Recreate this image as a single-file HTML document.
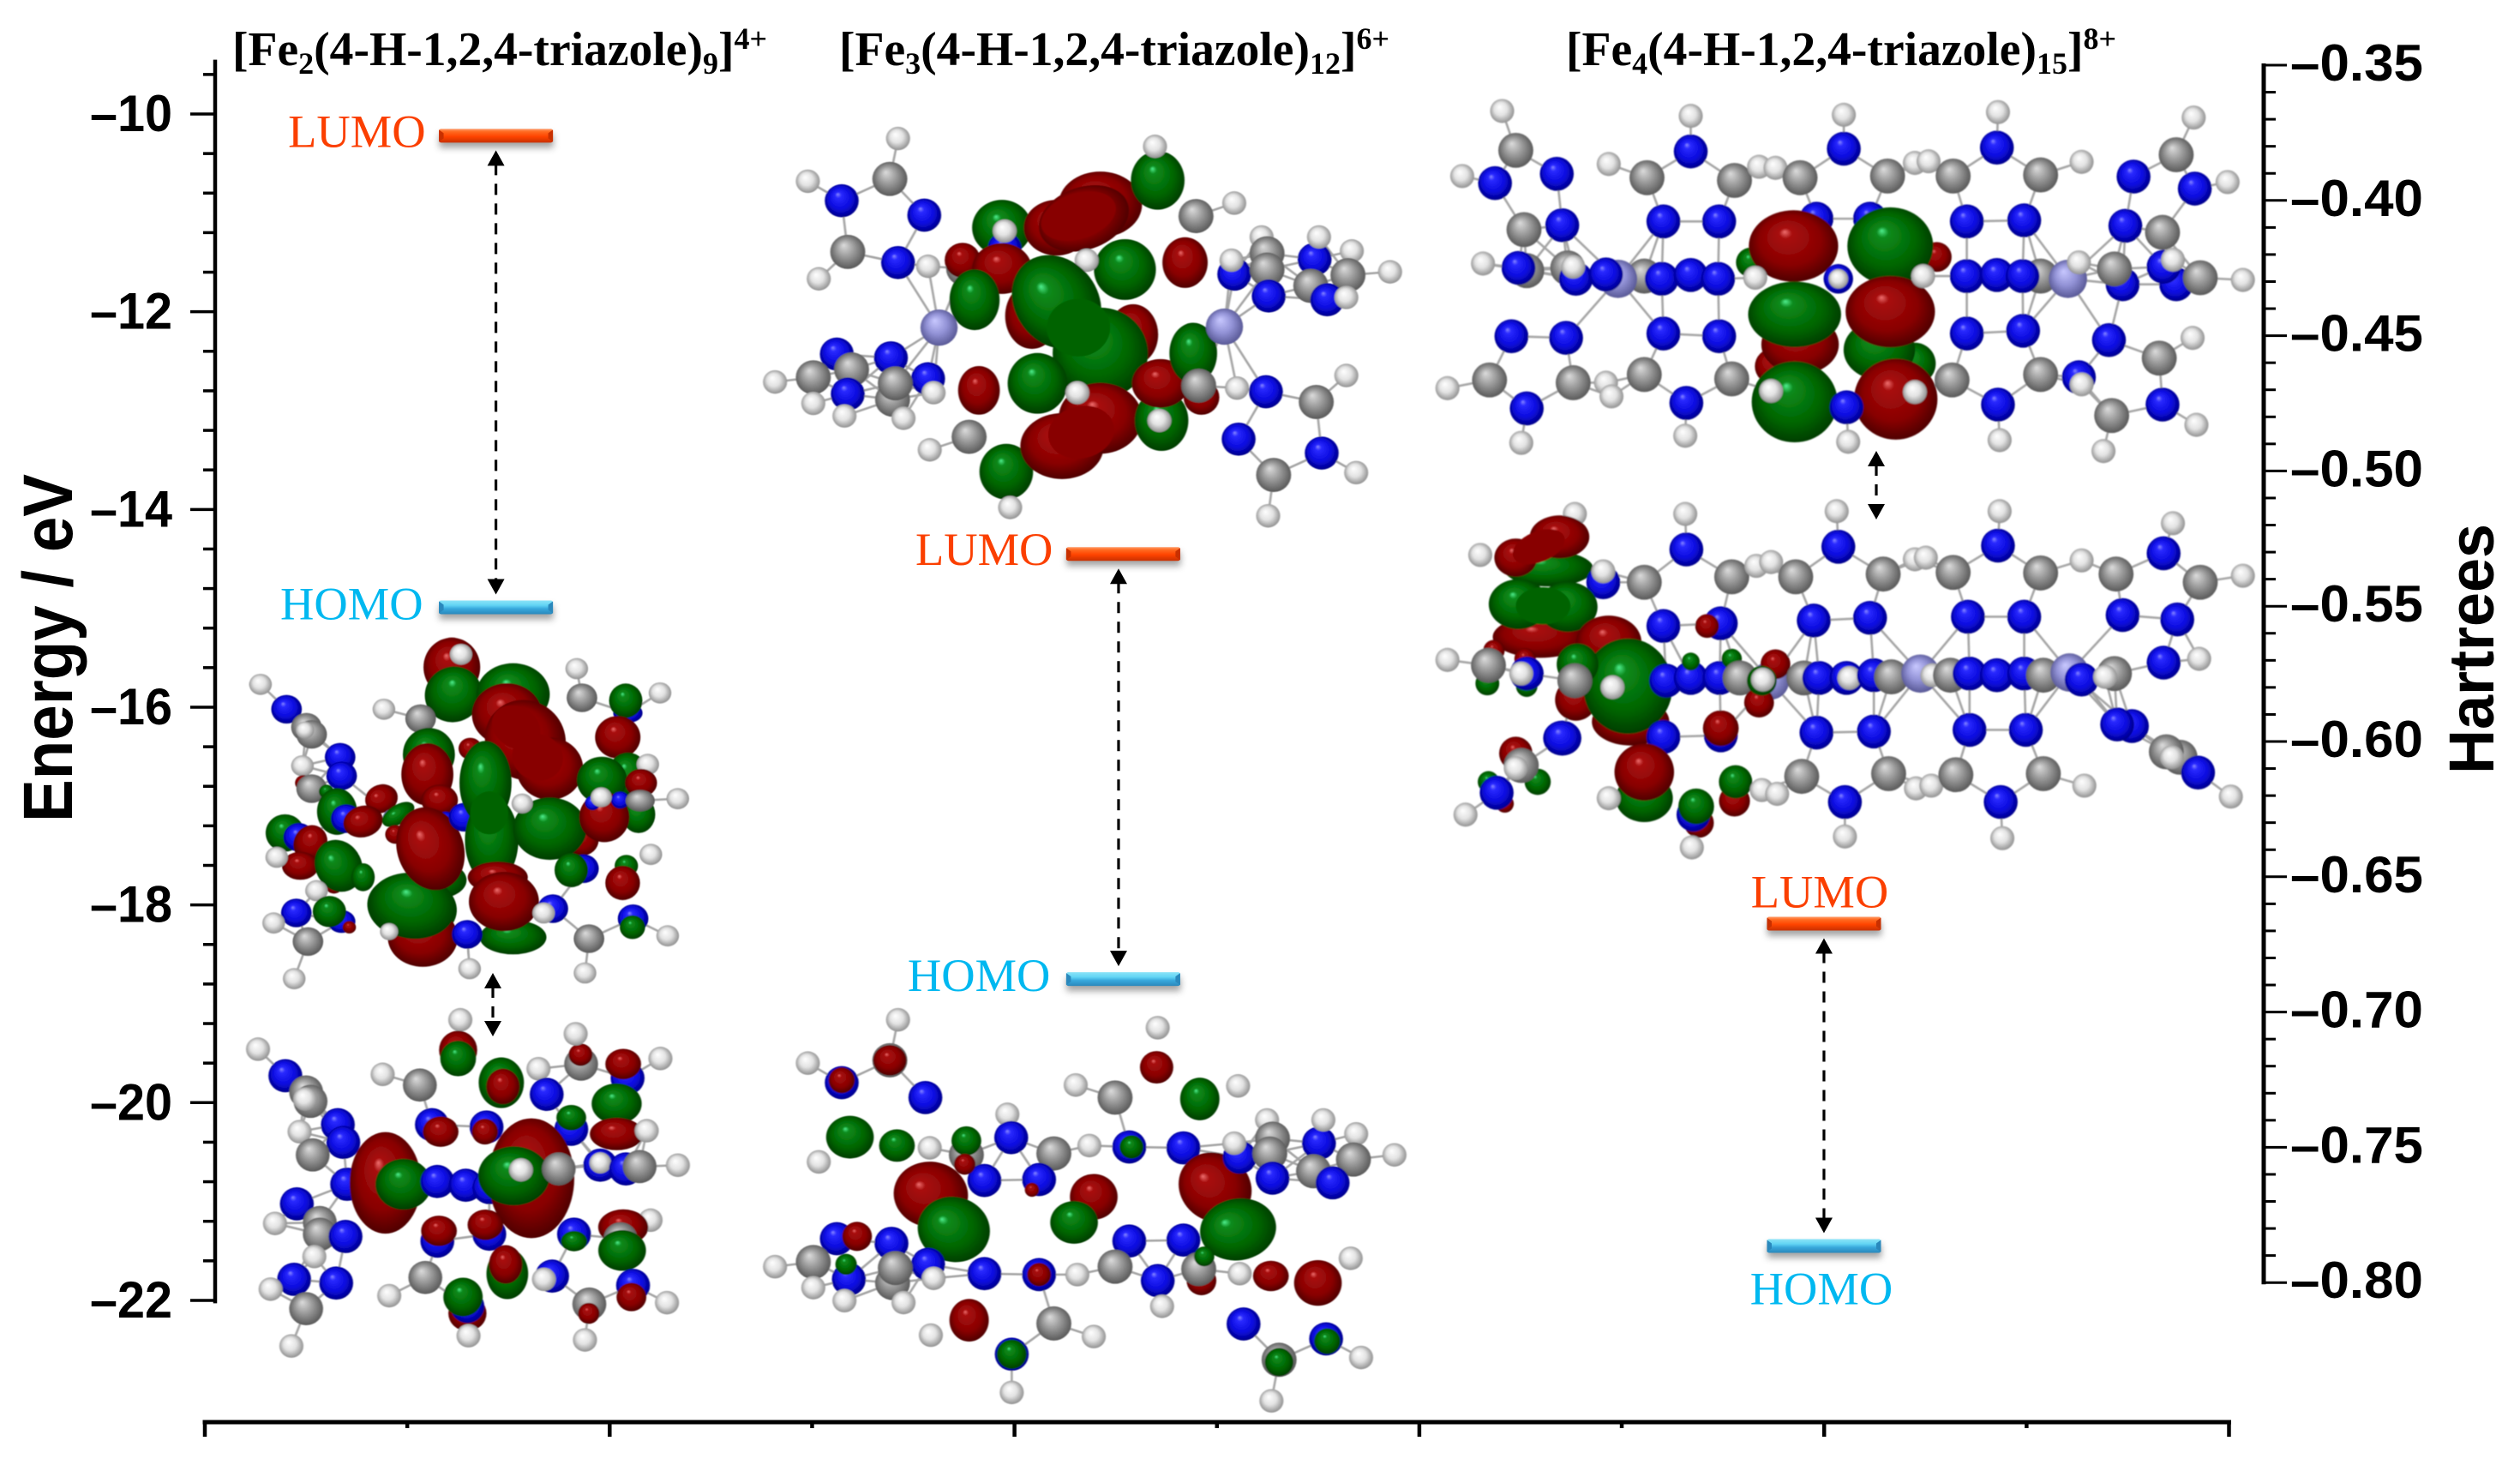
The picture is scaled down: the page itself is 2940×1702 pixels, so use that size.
<!DOCTYPE html>
<html lang="en">
<head>
<meta charset="utf-8">
<title>HOMO-LUMO energy levels of iron triazole complexes</title>
<style>
html,body{margin:0;padding:0;background:#fff;}
svg{display:block;}
.tick{font-family:"Liberation Sans",sans-serif;font-weight:700;font-size:60px;fill:#000;}
.axt{font-family:"Liberation Sans",sans-serif;font-weight:700;fill:#000;}
.ttl{font-family:"Liberation Serif",serif;font-weight:700;font-size:55.6px;fill:#000;}
.lvl{font-family:"Liberation Serif",serif;font-size:54.5px;}
</style>
</head>
<body>
<svg id="chart" xmlns="http://www.w3.org/2000/svg" width="2940" height="1702" viewBox="0 0 2940 1702">
<defs>
<radialGradient id="gH" cx=".5" cy=".5" r=".55" fx=".38" fy=".32"><stop offset="0" stop-color="#fff"/><stop offset=".5" stop-color="#e2e2e2"/><stop offset="1" stop-color="#848484"/></radialGradient>
<radialGradient id="gC" cx=".5" cy=".5" r=".55" fx=".38" fy=".3"><stop offset="0" stop-color="#dcdcdc"/><stop offset=".45" stop-color="#9c9c9c"/><stop offset="1" stop-color="#505050"/></radialGradient>
<radialGradient id="gN" cx=".5" cy=".5" r=".55" fx=".38" fy=".3"><stop offset="0" stop-color="#8a8aff"/><stop offset=".16" stop-color="#2a2aff"/><stop offset=".6" stop-color="#0a0ade"/><stop offset="1" stop-color="#000078"/></radialGradient>
<radialGradient id="gF" cx=".5" cy=".5" r=".55" fx=".38" fy=".3"><stop offset="0" stop-color="#c8c8ff"/><stop offset=".5" stop-color="#9292d6"/><stop offset="1" stop-color="#50508c"/></radialGradient>
<radialGradient id="gR" cx=".5" cy=".5" r=".58" fx=".4" fy=".3"><stop offset="0" stop-color="#f07070"/><stop offset=".12" stop-color="#a81010"/><stop offset=".6" stop-color="#880000"/><stop offset="1" stop-color="#3c0000"/></radialGradient>
<radialGradient id="gG" cx=".5" cy=".5" r=".58" fx=".4" fy=".3"><stop offset="0" stop-color="#50f090"/><stop offset=".12" stop-color="#0c8a1c"/><stop offset=".6" stop-color="#006400"/><stop offset="1" stop-color="#003000"/></radialGradient>
<linearGradient id="barL" x1="0" y1="0" x2="0" y2="1"><stop offset="0" stop-color="#ff9a68"/><stop offset=".2" stop-color="#ff6a20"/><stop offset=".55" stop-color="#ff4400"/><stop offset="1" stop-color="#c83000"/></linearGradient>
<linearGradient id="barH" x1="0" y1="0" x2="0" y2="1"><stop offset="0" stop-color="#8ce4f8"/><stop offset=".35" stop-color="#62d4f4"/><stop offset=".6" stop-color="#38a8dc"/><stop offset="1" stop-color="#2a88bc"/></linearGradient>
<filter id="soft" x="-5%" y="-5%" width="110%" height="110%"><feGaussianBlur stdDeviation="1.2"/></filter>
<filter id="shadow" x="-10%" y="-60%" width="120%" height="220%"><feGaussianBlur stdDeviation="4"/></filter>
</defs>
<g id="molecules"></g>
<g id="levels"></g>
<g id="axes"></g>
<text class="ttl" x="271" y="76">[Fe<tspan font-size="36" dy="10">2</tspan><tspan dy="-10">(4-H-1,2,4-triazole)</tspan><tspan font-size="36" dy="10">9</tspan><tspan dy="-10">]</tspan><tspan font-size="36" dy="-19">4+</tspan></text>
<text class="ttl" x="979" y="76">[Fe<tspan font-size="36" dy="10">3</tspan><tspan dy="-10">(4-H-1,2,4-triazole)</tspan><tspan font-size="36" dy="10">12</tspan><tspan dy="-10">]</tspan><tspan font-size="36" dy="-19">6+</tspan></text>
<text class="ttl" x="1827" y="76">[Fe<tspan font-size="36" dy="10">4</tspan><tspan dy="-10">(4-H-1,2,4-triazole)</tspan><tspan font-size="36" dy="10">15</tspan><tspan dy="-10">]</tspan><tspan font-size="36" dy="-19">8+</tspan></text>
<text class="axt" font-size="82" text-anchor="middle" textLength="406" lengthAdjust="spacingAndGlyphs" transform="translate(84,756) rotate(-90)">Energy / eV</text>
<text class="axt" font-size="74" text-anchor="middle" textLength="292" lengthAdjust="spacingAndGlyphs" transform="translate(2909,757) rotate(-90)">Hartrees</text>
</svg>
<script>
const NS = 'http://www.w3.org/2000/svg';

/* ---------- chart data ---------- */
const systems = ['Fe2', 'Fe3', 'Fe4'];
const lumoEnergies = [-10.22, -14.45, -18.19];
const homoEnergies = [-14.99, -18.75, -21.45];
const levelCenters = [1.438, 4.537, 7.999];
const arrowCenters = [1.438, 4.514, 7.999];
const energyTicks = [-10, -12, -14, -16, -18, -20, -22];
const energyTickLabels = ['–10', '–12', '–14', '–16', '–18', '–20', '–22'];
const hartreeTicks = [-0.35, -0.40, -0.45, -0.50, -0.55, -0.60, -0.65, -0.70, -0.75, -0.80];
const hartreeTickLabels = ['–0.35', '–0.40', '–0.45', '–0.50', '–0.55', '–0.60', '–0.65', '–0.70', '–0.75', '–0.80'];
const categoryTicks = [0, 1, 2, 3, 4, 5, 6, 7, 8, 9, 10];

/* ---------- axis functions ---------- */
function yEnergy(e) { return 133 + (-10 - e) * 115.33; }
function yHartree(h) { return 76 + (-0.35 - h) / 0.05 * 157.8; }
function xCat(c) { return 239 + c * 236.15; }

function mk(parent, tag, attrs) {
  const el = document.createElementNS(NS, tag);
  for (const k in attrs) el.setAttribute(k, attrs[k]);
  parent.appendChild(el);
  return el;
}

/* ---------- axes ---------- */
const axes = document.getElementById('axes');
const leftLine = mk(axes, 'line', {x1: 251, x2: 251, y1: yEnergy(-9.45), y2: yEnergy(-22.03), stroke: '#000', 'stroke-width': 4.5});


for (let i = 0; i <= 31; i++) {
  const e = -9.6 - i * 0.4;
  const isMajor = i % 5 === 1;
  const t = mk(axes, 'line', {x1: isMajor ? 222 : 237, x2: 251, y1: yEnergy(e), y2: yEnergy(e), stroke: '#000', 'stroke-width': 3.5});
  
  
}
energyTicks.forEach((e, i) => {
  const t = mk(axes, 'text', {class: 'tick', x: 201, y: yEnergy(e) + 20, 'text-anchor': 'end', textLength: 96, lengthAdjust: 'spacingAndGlyphs'});
  t.textContent = energyTickLabels[i];
  
  
});
const rightLine = mk(axes, 'line', {x1: 2641, x2: 2641, y1: yHartree(-0.35) - 2, y2: yHartree(-0.80) + 2, stroke: '#000', 'stroke-width': 5});


for (let i = 0; i <= 45; i++) {
  const h = -0.35 - i * 0.01;
  const isMajor = i % 5 === 0;
  const t = mk(axes, 'line', {x1: 2641, x2: isMajor ? 2668 : 2655, y1: yHartree(h), y2: yHartree(h), stroke: '#000', 'stroke-width': 3});
  
  
}
hartreeTicks.forEach((h, i) => {
  const t = mk(axes, 'text', {class: 'tick', x: 2672, y: yHartree(h) + 18, textLength: 155, lengthAdjust: 'spacingAndGlyphs'});
  t.textContent = hartreeTickLabels[i];
  
  
});
const bottomLine = mk(axes, 'line', {x1: xCat(0) - 2.5, x2: xCat(10) + 2.5, y1: 1659, y2: 1659, stroke: '#000', 'stroke-width': 5});


categoryTicks.forEach(c => {
  const isMajor = c % 2 === 0;
  const t = mk(axes, 'line', {x1: xCat(c), x2: xCat(c), y1: 1659, y2: isMajor ? 1676 : 1666, stroke: '#000', 'stroke-width': 4.5});
  
  
});

/* ---------- levels ---------- */
const levels = document.getElementById('levels');
function drawBar(cx, y, grad, edge, name) {
  const g = mk(levels, 'g', {});
  
  
  mk(g, 'rect', {x: cx - 66, y: y - 2, width: 133, height: 16, fill: '#666', opacity: .6, filter: 'url(#shadow)'});
  mk(g, 'rect', {x: cx - 66.5, y: y - 8, width: 133, height: 16, rx: 2.5, fill: 'url(#' + grad + ')'});
  mk(g, 'polygon', {points: [cx - 66.5, y - 7, cx - 61, y - 3, cx - 61, y + 3, cx - 66.5, y + 7].join(','), fill: edge});
  mk(g, 'polygon', {points: [cx + 66.5, y - 7, cx + 61, y - 3, cx + 61, y + 3, cx + 66.5, y + 7].join(','), fill: edge});
}
function arrowHead(x, tipY, dir) {
  const el = mk(levels, 'polygon', {points: [x, tipY, x - 10, tipY + dir * 18, x + 10, tipY + dir * 18].join(','), fill: '#000'});
  
  
}
function gapArrow(x, y1, y2) {
  const l = mk(levels, 'line', {x1: x, x2: x, y1: y1 + 16, y2: y2 - 16, stroke: '#000', 'stroke-width': 3.2, 'stroke-dasharray': '13 10'});
  
  
  arrowHead(x, y1, 1);
  arrowHead(x, y2, -1);
}
function levelLabel(txt, x, y, anchor, color, name) {
  const t = mk(levels, 'text', {class: 'lvl', x: x, y: y, 'text-anchor': anchor, fill: color});
  t.textContent = txt;
  
  
}
const LUMO_COLOR = '#fb3f00', HOMO_COLOR = '#00b8f0';
systems.forEach((s, i) => {
  const cx = xCat(levelCenters[i]);
  const yL = yEnergy(lumoEnergies[i]);
  const yH = yEnergy(homoEnergies[i]);
  drawBar(cx, yL, 'barL', '#c83000', 'lumo-level-' + s);
  drawBar(cx, yH, 'barH', '#2a88bc', 'homo-level-' + s);
  gapArrow(xCat(arrowCenters[i]), yL + 17, yH - 15);
  if (i < 2) {
    levelLabel('LUMO', cx - 82, yL + 13, 'end', LUMO_COLOR, 'lumo-label-' + s);
    levelLabel('HOMO', cx - 85, yH + 14, 'end', HOMO_COLOR, 'homo-label-' + s);
  } else {
    levelLabel('LUMO', cx - 5, yL - 19, 'middle', LUMO_COLOR, 'lumo-label-' + s);
    levelLabel('HOMO', cx - 3, yH + 68, 'middle', HOMO_COLOR, 'homo-label-' + s);
  }
});
/* short arrows between the two orbital pictures */
gapArrow(575, 1135, 1209);
gapArrow(2189, 526, 606);

/* ---------- molecule illustrations ---------- */
const molecules = [
 {name:'fe2-lumo-orbital', sx:1/2.8, sy:1/3, tx:270, ty:740, H:37, C:50, N:50, F:38, f:1.0, bond:175,
  atoms:'H 95 175;N 180 262;C 245 325;C 262 350;H 240 335 30;N 355 430;N 360 495;H 232 460;R 235 520 25;C 262 540;G 310 550 22;G 345 620 60 75;N 375 645;R 490 575 50 45 -30;R 430 655 60 50 -20;G 175 695 58 60;N 220 710;R 258 730 50 58 20;R 225 810 55 45;H 148 780;R 335 880 25;G 350 810 70 85 -20;G 430 850 35 45;H 278 897;N 212 975;H 138 1010;N 360 1005 45 40;R 385 1025 20;G 320 970 50 50;C 250 1075;H 205 1205;F 530 640 35 30;G 545 630 55 30 -35;R 720 115 85 95;H 750 70;G 725 210 85 90 20;C 618 295;H 498 262;G 645 420 78 85;R 640 490 78 100;R 680 580 55 50;N 700 650 30;R 535 700 30;R 780 400 35;G 670 860 90 60;G 590 955 135 105 10;R 625 1060 105 95;G 590 950 130 105 10;R 650 750 100 135 -15;H 515 1040 30;N 760 640;G 920 210 110 100;R 900 280 105 100;R 960 370 120 130 -20;R 1040 470 100 100;r 930 325 85 70 40;r 1000 430 85 80 40;G 830 520 78 135;G 850 720 80 140;g 842 625 62 75;R 870 850 90 50;G 920 1060 100 55;R 890 935 105 95;N 770 1050;H 778 1170;C 1145 222;H 1128 120;N 1295 275 48 35;G 1288 232 50 55;H 1400 205;R 1262 360 68 68;G 1295 490 60 70;G 1210 510 75 75;H 1360 455;R 1338 520 48 45;R 1145 720 50 50;G 1040 680 110 100;G 1330 630 50 60;R 1218 640 75 80;N 1270 580 30;N 1180 590 25;H 950 592 35;H 1208 570 35;C 1335 582 48 38;H 1458 575;N 1150 820;G 1110 825 50 55;G 1290 810 35;R 1278 870 52 55;H 1370 770;N 1050 960;H 1020 975;C 1168 1065;H 1155 1185;N 1312 995;G 1310 1025 38 38;H 1425 1055'},
 {name:'fe2-homo-orbital', sx:.6378, sy:.5435, tx:0, ty:850, H:22, C:31, N:31, F:32, f:1.15, bond:108,
  atoms:'H 472 688;N 522 745;C 560 780;C 568 800;H 558 795;N 618 850;N 628 888;H 548 865;C 572 915;N 635 978;N 543 1020;H 503 1062;C 585 1060;C 585 1085;H 575 1133;N 632 1090;N 538 1182;H 495 1203;N 615 1190;C 560 1245;H 533 1325;H 842 625;R 838 690 32 38;G 838 708 30 35;C 768 765;H 700 742;G 917 760 38 50;R 920 768 28 35;N 790 850;R 806 865 30 30;N 890 855;R 887 865 22;H 985 730;N 1000 785;C 1063 720;R 1062 700 20 22;H 1053 655;N 1148 750;R 1140 720 30 30;H 1208 708;G 1128 805 42 40;N 1045 860;G 1045 835 25 25;R 1128 870 45 32;H 1183 863;R 705 975 60 100;G 738 978 47 50;N 800 972;N 852 980;N 895 985;R 972 965 72 118;G 940 960 60 58;H 953 947;C 1022 945;N 1098 937;H 1098 932 20;N 1145 945;C 1170 940;H 1240 937;N 800 1100;R 803 1078 30 30;N 895 1085;R 888 1065 30 30;H 1190 1055;R 1140 1070 42 35;C 1135 1095;G 1138 1120 40 40;N 1050 1085;G 1050 1100 22 20;C 778 1178;H 712 1217;G 928 1170 35 50;R 925 1150 28 38;N 1010 1175;H 995 1182;R 855 1255 32 35;N 855 1240;G 847 1220 33 38;H 857 1303;C 1078 1235;R 1077 1255 18;H 1070 1312;N 1158 1195;R 1155 1220 25 28;H 1220 1232'},
 {name:'fe3-lumo-orbital', sx:.6378, sy:.5421, tx:850, ty:0, H:22, C:32, N:31, F:34, f:1.15, bond:115,
  atoms:'H 310 298;C 295 385;H 145 390;N 207 432;N 358 463;C 218 542;N 310 565;H 165 600;H 365 573;C 430 578;R 428 560 30;F 385 705;G 500 490 50 55;N 505 535;R 500 578 50 50;H 505 497 22;G 450 645 42 60;R 600 490 55 55;R 680 440 70 65;R 650 470 80 60 -30;r 640 465 72 48 -25;G 785 388 45 58;H 780 315;C 855 465;H 925 437;R 835 565 38 50;G 725 580 52 60;H 655 560;R 555 680 45 65;R 740 720 42 60;G 600 650 72 95 -20;G 680 760 80 90;g 640 705 58 62;G 565 825 50 60;R 458 840 35 48;C 440 940;H 368 968;G 508 1015 45 55;H 515 1092;R 610 960 70 65;R 680 900 70 70;r 645 930 62 55 -30;H 638 845 22;G 792 905 45 60;R 790 825 48 48;H 788 905;G 850 760 40 60;F 907 703;R 865 855 30;C 860 830;H 930 835;H 975 510;C 985 545;N 925 590;H 920 560;N 1072 558;H 1080 510;H 1140 540;C 1065 615;C 1133 592;H 1210 585;C 985 580;N 988 637;N 1095 645;H 1130 640;N 983 843;C 1075 865;H 1130 808;N 933 945;N 1085 975;C 997 1022;H 1148 1017;H 987 1110;N 198 762;C 225 795;N 297 770;N 365 815;C 155 812;H 85 822;H 155 868;N 218 848;H 212 895;C 300 860;C 305 825;H 320 900;H 375 845'},
 {name:'fe3-homo-orbital', sx:.6378, sy:.5434, tx:850, ty:850, H:22, C:32, N:31, F:32, f:1.15, bond:115,
  atoms:'H 310 625;C 295 712;R 295 712 28 30;H 145 718;N 207 760;R 207 755 22;N 360 792;G 222 877 40 42;G 308 895 30 32;H 165 930;H 368 900;C 435 915;G 435 885 25;H 510 828;N 517 878;C 595 912;H 660 895;N 468 970;R 432 935 18;N 568 968;R 555 990 12;R 370 1000 62 65 -20;N 198 1095;R 235 1090 25;N 298 1105;G 412 1075 60 65 -20;C 155 1145;H 85 1155;N 220 1182;G 215 1150 18;N 365 1150;C 300 1190;C 305 1158;H 155 1200;H 212 1228;H 320 1232;H 375 1180;H 785 642;R 783 727 28 32;H 635 765;C 707 792;G 862 795 33 42;H 932 767;N 733 898;G 737 898 20;N 832 900;R 668 1005 40 45;G 632 1060 40 42;N 468 1170;N 568 1172;R 568 1172 20;R 440 1270 33 42;H 370 1302;C 595 1277;H 668 1305;N 518 1343;G 518 1343 25;H 518 1425;R 890 985 60 70 -20;N 935 920;G 932 1075 65 60 -30;H 985 840;C 995 880;C 990 912;H 925 890;N 1080 890;H 1088 840;H 1148 870;C 1070 950;C 1143 925;H 1218 915;N 995 965;N 1105 975;N 733 1100;N 832 1098;C 707 1155;H 638 1172;N 785 1185;H 793 1240;R 865 1185 25;C 860 1160;G 870 1133 17;H 935 1170;R 992 1175 30 30;R 1078 1190 40 45;H 1138 1137;N 942 1278;N 1093 1310;G 1095 1315 22;C 1007 1355;G 1007 1360 24;H 1157 1350;H 993 1443'},
 {name:'fe4-lumo-orbital', sx:.6378, sy:.6378, tx:1660, ty:0, H:22, C:32, N:31, F:35, f:1.0, bond:108,
  atoms:'H 145 203;C 170 275;N 245 318;H 72 322;N 132 335;C 185 420;N 255 412;C 190 495;N 175 490;H 110 482;C 265 490;N 280 510;H 275 488;H 340 300;C 410 325;H 490 212;N 490 277;C 570 330;H 615 305;H 645 307;C 690 325;H 770 210;N 770 272;C 850 322;H 900 298;H 925 295;C 970 322;H 1052 205;N 1050 270;C 1130 320;H 1205 296;H 1410 215;C 1378 283;N 1300 323;N 1412 345;H 1472 333;C 1353 425;N 1285 413;N 440 405;N 542 405;N 720 400;N 818 400;N 995 405;N 1100 403;C 405 505;F 357 510;N 335 502;N 437 510;N 490 503;N 540 510;C 1130 505;N 995 505;N 1050 503;N 1097 505;N 1280 520;F 1180 510;C 1265 492;H 1200 480;N 1378 520;N 1355 488;H 1372 475;C 1422 508;H 1500 512;G 600 480 25;R 940 470 25;R 640 670 30;G 900 665 35;R 690 630 65 50;G 835 640 60 50;R 678 450 75 60;G 855 450 72 65;G 680 575 78 55;R 855 570 75 60;G 680 735 72 68;R 865 730 70 68;H 608 508;N 760 510 27;H 760 510 18;H 915 505;H 637 715;H 900 717;N 162 615;N 262 618;C 122 695;H 45 710;H 335 700;C 275 700;N 190 747;H 180 810;H 345 725;N 440 610;N 542 615;C 405 685;C 565 693;N 482 737;H 480 797;N 775 745;H 778 808;C 968 695;N 995 610;N 1098 605;C 1130 685;N 1052 740;H 1055 805;N 1255 622;C 1347 655;H 1408 618;N 1200 690;H 1205 703;C 1260 760;N 1353 740;H 1415 777;H 1245 825'},
 {name:'fe4-homo-orbital', sx:.6378, sy:.6378, tx:1660, ty:0, H:22, C:32, N:31, F:35, f:1.0, bond:108,
  atoms:'H 278 940;H 105 1015;G 230 1040 75 30;R 170 1020 36 32;R 250 982 50 36;r 212 1000 50 28 -22;N 330 1065;H 330 1045;C 405 1065;H 480 940;N 482 1005;C 565 1055;H 610 1035;H 637 1028;C 682 1055;H 757 935;N 760 1000;C 842 1050;H 900 1023;H 920 1020;C 970 1047;H 1055 935;N 1052 998;C 1130 1048;H 1205 1025;C 1268 1050;N 1355 1012;H 1372 957;C 1422 1065;H 1500 1053;R 215 1165 80 35;G 175 1105 50 42;G 265 1110 50 42;g 220 1108 50 34;N 440 1145;N 545 1140;R 520 1145 20;N 715 1135;N 818 1130;N 997 1128;N 1100 1128;N 1280 1125;N 1380 1133;H 45 1207;R 130 1190 18;G 118 1250 20;C 120 1217;R 187 1205 18;G 190 1255 18;N 190 1232;H 180 1232;R 380 1320 65 40;R 340 1175 55 45;R 280 1280 35 35;G 375 1255 75 80;G 283 1215 35 35;C 278 1245;H 347 1257;N 445 1245;N 490 1240;N 543 1240;G 490 1210 15;G 565 1205 17;C 580 1240;F 635 1245;R 645 1215 25;R 615 1285 25;G 620 1245 25;H 622 1243;C 697 1240;N 725 1240;N 775 1240;H 780 1240;N 825 1235;C 857 1238;F 910 1232;H 932 1235;C 965 1235;N 1000 1232;N 1050 1235;N 1100 1232;C 1135 1235;F 1183 1230;N 1205 1243;C 1265 1232;H 1248 1238;N 1355 1212;H 1420 1205;R 170 1378 28;N 255 1350 35 32;G 210 1430 22;G 120 1430 18;C 180 1400;H 170 1405;R 150 1470 15;N 135 1450;H 78 1490;N 440 1348;N 545 1345;R 545 1332 30;G 405 1460 48 40;R 405 1412 50 48;H 340 1460;R 570 1465 26;G 572 1430 28;H 620 1445;H 648 1452;R 505 1505 25;N 495 1490;G 500 1475 30;H 492 1550;N 720 1340;N 825 1338;C 693 1420;N 772 1467;H 772 1530;C 852 1415;H 902 1442;H 930 1437;C 975 1417;N 1000 1335;N 1103 1335;C 1135 1415;N 1057 1467;H 1060 1533;H 1210 1437;N 1297 1328;N 1270 1325;C 1385 1385;C 1360 1375;H 1370 1385;N 1418 1413;H 1478 1457'}
];
const atomNames = {H:'hydrogen-atom', C:'carbon-atom', N:'nitrogen-atom', F:'iron-atom', R:'red-orbital-lobe', G:'green-orbital-lobe', r:'red-orbital-lobe', g:'green-orbital-lobe'};
const atomFills = {H:'url(#gH)', C:'url(#gC)', N:'url(#gN)', F:'url(#gF)', R:'url(#gR)', G:'url(#gG)', r:'#880000', g:'#006400'};
const LOBE_GROW = 1.09;
const molRoot = document.getElementById('molecules');
molecules.forEach(m => {
  const g = mk(molRoot, 'g', {transform: `translate(${m.tx},${m.ty}) scale(${m.sx},${m.sy})`, filter: 'url(#soft)'});
  
  
  const parsed = m.atoms.split(';').map(s => {
    const p = s.trim().split(' ');
    return {t: p[0], x: +p[1], y: +p[2], r: p[3] ? +p[3] : null, ry: p[4] ? +p[4] : null, rot: p[5] ? +p[5] : 0};
  });
  const isLobe = a => 'RGrg'.includes(a.t);
  const heavy = parsed.filter(a => !isLobe(a));
  for (let i = 0; i < heavy.length; i++) {
    for (let j = i + 1; j < heavy.length; j++) {
      const a = heavy[i], b = heavy[j];
      if (a.t === 'H' && b.t === 'H') continue;
      const d = Math.hypot(a.x - b.x, a.y - b.y);
      const hasH = a.t === 'H' || b.t === 'H';
      const hasF = a.t === 'F' || b.t === 'F';
      const lim = hasF ? m.bond * 1.45 : hasH ? m.bond * 0.85 : m.bond;
      if (d < lim && d > m.bond * 0.3) {
        mk(g, 'line', {x1: a.x, y1: a.y, x2: b.x, y2: b.y, stroke: '#a4a4a4', 'stroke-width': 2.6, 'vector-effect': 'non-scaling-stroke'});
      }
    }
  }
  parsed.forEach(a => {
    const grow = (a.t === 'R' || a.t === 'G') ? LOBE_GROW : 1;
    const rx = (a.r || m[a.t] || 30) * grow;
    const ry = (a.ry || (a.r ? a.r * m.f : (m[a.t] || 30) * m.f)) * grow;
    const attrs = {cx: a.x, cy: a.y, rx: rx, ry: ry, fill: atomFills[a.t]};
    if (a.rot) attrs.transform = `rotate(${a.rot} ${a.x} ${a.y})`;
    const el = mk(g, 'ellipse', attrs);
    
    
  });
});
</script>
</body>
</html>
